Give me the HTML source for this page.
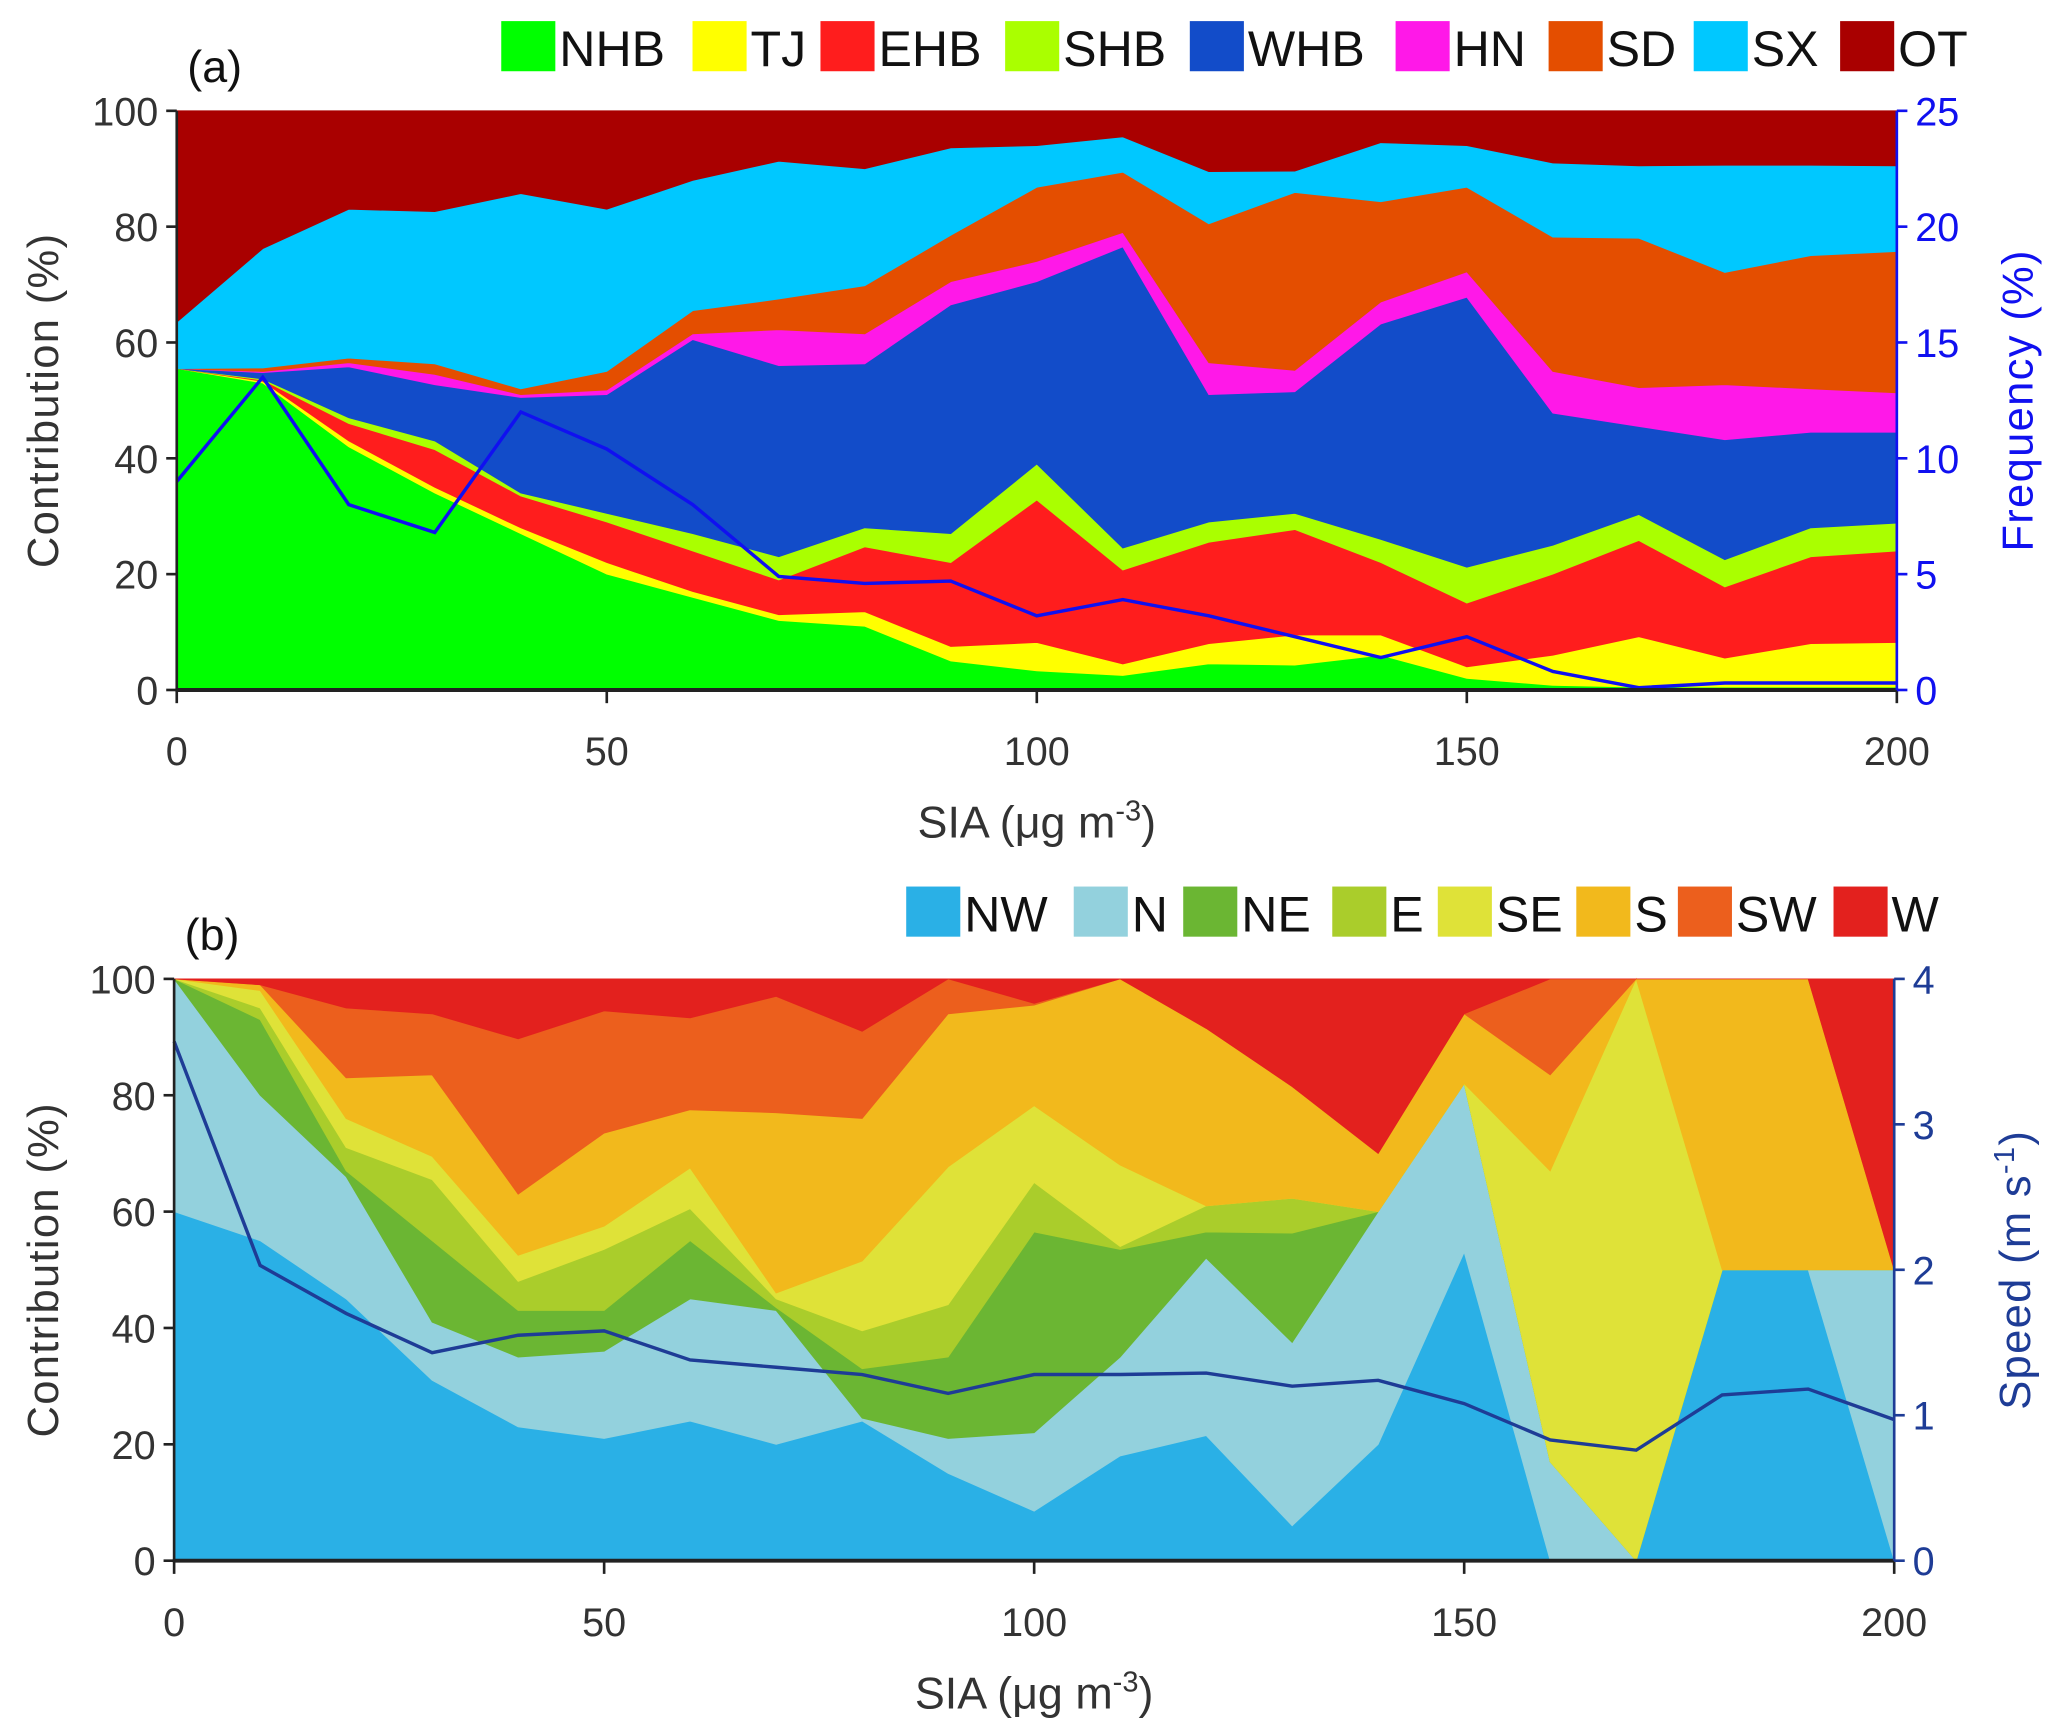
<!DOCTYPE html>
<html><head><meta charset="utf-8">
<style>
html,body{margin:0;padding:0;background:#fff;}
svg{display:block;}
text{font-family:"Liberation Sans Narrow","Liberation Sans",sans-serif;}
</style></head>
<body>
<svg id="chart" width="2067" height="1719" viewBox="0 0 1567 1303" preserveAspectRatio="none" xmlns="http://www.w3.org/2000/svg"></svg>
<script>
const xVals = [0,10,20,30,40,50,60,70,80,90,100,110,120,130,140,150,160,170,180,190,200];
// Panel (a): cumulative stack tops (%)
const regionNames = ["NHB","TJ","EHB","SHB","WHB","HN","SD","SX","OT"];
const regionColors = ["#00ff00","#ffff00","#ff1d1d","#aaff00","#124cc9","#ff18e8","#e44e00","#00c8ff","#a90000"];
const nhbTop = [55.5,53,42,34,27,20,16,12,11,5,3.3,2.5,4.5,4.3,6,2,0.8,0.5,0.5,0.5,0.5];
const tjTop  = [55.5,53.3,43,35,28,22,17,13,13.5,7.5,8.2,4.5,8,9.5,9.5,4,6,9.2,5.5,8,8.2];
const ehbTop = [55.5,53.5,46,41.5,33.5,29,24,19,24.7,22,32.8,20.7,25.5,27.7,22,15,20,25.8,17.8,23,24];
const shbTop = [55.5,53.7,47,43,34,30.5,27,23,28,27,39,24.5,29,30.5,26,21.2,25,30.3,22.5,28,28.8];
const whbTop = [55.5,54.8,55.8,52.7,50.5,51,60.5,56,56.3,66.5,70.5,76.5,51,51.5,63.2,67.8,47.8,45.5,43.2,44.5,44.5];
const hnTop  = [55.5,55,56.5,54.5,51,51.8,61.5,62.2,61.5,70.5,74,79,56.5,55.2,67,72.2,55,52.2,52.7,52,51.3];
const sdTop  = [55.5,55.6,57.3,56.3,52,55,65.5,67.5,69.8,78.5,86.8,89.4,80.5,85.9,84.3,86.8,78.2,78,72.1,75,75.7];
const sxTop  = [63.5,76.2,83,82.6,85.7,83,88,91.3,90,93.6,94,95.5,89.5,89.6,94.5,94,91,90.5,90.6,90.6,90.5];
const otTop  = [100,100,100,100,100,100,100,100,100,100,100,100,100,100,100,100,100,100,100,100,100];
const frequency = [9,13.5,8,6.8,12,10.4,8,4.9,4.6,4.7,3.2,3.9,3.2,2.3,1.4,2.3,0.8,0.1,0.3,0.3,0.3];
// Panel (b): cumulative stack tops (%)
const dirNames = ["NW","N","NE","E","SE","S","SW","W"];
const dirColors = ["#2ab0e6","#93d1dd","#6bb633","#aacd2b","#dfe238","#f2b91c","#ec5f1d","#e3211e"];
const nwTop = [60,55,45,31,23,21,24,20,24,15,8.5,18,21.5,6,20,53,0,0,50,50,0];
const nTop  = [100,80,66,41,35,36,45,43,24.5,21,22,35,52,37.5,60,82,17,0,50,50,50];
const neTop = [100,93,67,55,43,43,55,43.5,33,35,56.5,53.5,56.5,56.3,60,82,17,0,50,50,50];
const eTop  = [100,95,71,65.5,48,53.5,60.5,45,39.5,44,65,54,61,62.3,60,82,17,0,50,50,50];
const seTop = [100,98,76,69.5,52.5,57.5,67.5,46,51.5,67.7,78.2,68,61,62.3,60,82,67,100,50,50,50];
const sTop  = [100,99,83,83.5,63,73.5,77.5,77,76,94,95.5,100,91.5,81.5,70,94,83.5,100,100,100,50];
const swTop = [100,99,95,94,89.7,94.5,93.3,97,91,100,95.8,100,91.5,81.5,70,94,100,100,100,100,50];
const wTop  = [100,100,100,100,100,100,100,100,100,100,100,100,100,100,100,100,100,100,100,100,100];
const speed = [3.57,2.03,1.7,1.43,1.55,1.58,1.38,1.33,1.28,1.15,1.28,1.28,1.29,1.2,1.24,1.08,0.83,0.76,1.14,1.18,0.97];
const xTicks = [0,50,100,150,200];
const yTicks = [0,20,40,60,80,100];
const freqTicks = [0,5,10,15,20,25];
const speedTicks = [0,1,2,3,4];

const NS="http://www.w3.org/2000/svg";
const svg=document.getElementById('chart');
function mk(tag,attrs,parent){const e=document.createElementNS(NS,tag);for(const k in attrs)e.setAttribute(k,attrs[k]);(parent||svg).appendChild(e);return e;}

function panel(cfg){
  const {x0,x1,yTop,yBot,stacks,names,colors,line,lineMax,lineColor,rTicks,rColor,rTitle,label,legendX,legendY,legendW,tag}=cfg;
  const sx=v=>x0+(v-0)/200*(x1-x0);
  const sy=v=>yBot-v/100*(yBot-yTop);
  const sr=v=>yBot-v/lineMax*(yBot-yTop);
  const g=mk('g',{});
  
  
  for(let s=0;s<stacks.length;s++){
    const top=stacks[s], bot=s>0?stacks[s-1]:xVals.map(()=>0);
    let d='M'+xVals.map((x,i)=>sx(x)+','+sy(top[i])).join(' L');
    for(let i=xVals.length-1;i>=0;i--) d+=' L'+sx(xVals[i])+','+sy(bot[i]);
    d+='Z';
    const p=mk('path',{d:d,fill:colors[s],stroke:colors[s],'stroke-width':0.6},g);
    
    
  }
  const pl=mk('polyline',{points:xVals.map((x,i)=>sx(x)+','+sr(line[i])).join(' '),fill:'none',stroke:lineColor,'stroke-width':2.6},g);
  
  
  const ax=mk('g',{},g);
  
  
  mk('line',{x1:x0,y1:yTop,x2:x0,y2:yBot+1,stroke:'#222','stroke-width':2},ax);
  mk('line',{x1:x0-1,y1:yBot,x2:x1+1,y2:yBot,stroke:'#222','stroke-width':3},ax);
  mk('line',{x1:x1,y1:yTop,x2:x1,y2:yBot,stroke:rColor,'stroke-width':2},ax);
  xTicks.forEach(t=>{
    mk('line',{x1:sx(t),y1:yBot,x2:sx(t),y2:yBot+10,stroke:'#222','stroke-width':2},ax);
    const tx=mk('text',{x:sx(t),y:yBot+57,'text-anchor':'middle','font-size':30,fill:'#333'},ax);
    tx.textContent=t;
    
    
  });
  yTicks.forEach(t=>{
    mk('line',{x1:x0-8,y1:sy(t),x2:x0,y2:sy(t),stroke:'#222','stroke-width':2},ax);
    const tx=mk('text',{x:x0-14,y:sy(t)+11,'text-anchor':'end','font-size':30,fill:'#333'},ax);
    tx.textContent=t;
    
    
  });
  rTicks.forEach(t=>{
    mk('line',{x1:x1,y1:sr(t),x2:x1+8,y2:sr(t),stroke:rColor,'stroke-width':2},ax);
    const tx=mk('text',{x:x1+14,y:sr(t)+11,'text-anchor':'start','font-size':30,fill:rColor},ax);
    tx.textContent=t;
    
    
  });
  const yt=mk('text',{x:0,y:0,transform:`translate(44,${(yTop+yBot)/2}) rotate(-90)`,'text-anchor':'middle','font-size':33,fill:'#333','font-family':'Liberation Sans, sans-serif','letter-spacing':1},g);
  yt.textContent='Contribution  (%)';
  
  
  const rt=mk('text',{x:0,y:0,transform:`translate(${x1+103},${(yTop+yBot)/2}) rotate(-90)`,'text-anchor':'middle','font-size':33,fill:rColor,'font-family':'Liberation Sans, sans-serif','letter-spacing':1},g);
  rt.innerHTML=rTitle;
  
  
  const xt=mk('text',{x:(x0+x1)/2,y:yBot+112,'text-anchor':'middle','font-size':34,fill:'#333'},g);
  xt.innerHTML='SIA  (μg  m<tspan dy="-13" font-size="22">-3</tspan><tspan dy="13">)</tspan>';
  
  
  const lb=mk('text',{x:x0+8,y:yTop-22,'font-size':34,fill:'#111'},g);
  lb.textContent=label;
  
  
  const lg=mk('g',{},g);
  
  
  names.forEach((n,i)=>{
    const e=mk('g',{},lg);
    
    
    mk('rect',{x:legendX[i],y:legendY,width:legendW,height:38,fill:colors[i]},e);
    const t=mk('text',{x:legendX[i]+legendW+3,y:legendY+34,'font-size':38,fill:'#111'},e);
    t.textContent=n;
  });
}
panel({x0:134,x1:1438,yTop:84,yBot:523,
  stacks:[nhbTop,tjTop,ehbTop,shbTop,whbTop,hnTop,sdTop,sxTop,otTop],
  names:regionNames,colors:regionColors,line:frequency,lineMax:25,lineColor:'#1010f0',
  rTicks:freqTicks,rColor:'#1010f0',rTitle:'Frequency  (%)',label:'(a)',
  legendX:[380,525,622,762,902,1058,1174,1284,1395],legendY:16,legendW:41,tag:'panel-a'});
panel({x0:132,x1:1436,yTop:742,yBot:1183,
  stacks:[nwTop,nTop,neTop,eTop,seTop,sTop,swTop,wTop],
  names:dirNames,colors:dirColors,line:speed,lineMax:4,lineColor:'#1e3c96',
  rTicks:speedTicks,rColor:'#1e3c96',rTitle:'Speed  (m  s<tspan dy="-12" font-size="22">-1</tspan><tspan dy="12">)</tspan>',label:'(b)',
  legendX:[687,814,897,1010,1090,1195,1272,1390],legendY:672,legendW:41,tag:'panel-b'});
</script>
</body></html>
